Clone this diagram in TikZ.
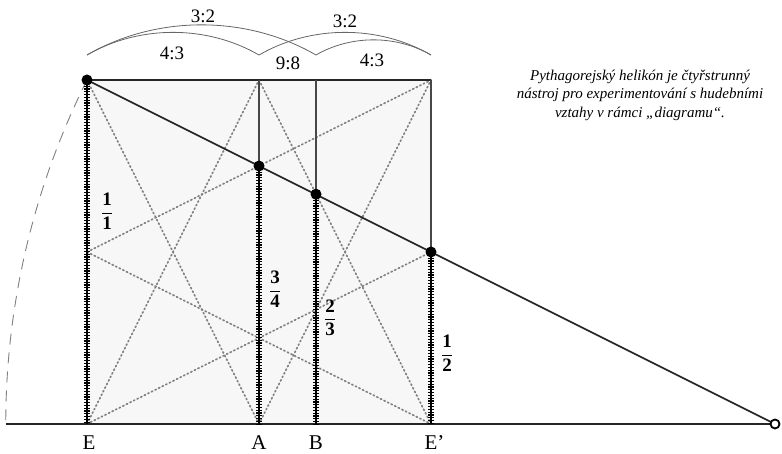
\documentclass[tikz,border=0pt]{standalone}
\usepackage{fontspec}
\usepackage{amsmath}
\setmainfont{Liberation Serif}
\begin{document}
\begin{tikzpicture}[x=1pt,y=1pt,
  hatch/.style={line width=6.5pt, dash pattern=on 1.2pt off 1.6pt, black},
  core/.style={line width=1.5pt, black},
  thinv/.style={line width=1.4pt, black!72},
  heavy/.style={line width=1.8pt, black!85},
  dotline/.style={line width=1.6pt, black!50, dash pattern=on 1.4pt off 2.6pt, line cap=round},
  ratioarc/.style={line width=0.8pt, black!60},
  dasharc/.style={line width=0.9pt, black!50, dash pattern=on 11pt off 8pt},
  fulldot/.style={circle, fill=black, inner sep=0pt, minimum size=11pt},
  opendot/.style={circle, draw=black, line width=1.8pt, fill=white, inner sep=0pt, minimum size=9pt},
  lab/.style={font=\fontsize{21}{24}\selectfont, inner sep=1pt},
  ratio/.style={font=\fontsize{19}{21}\selectfont, inner sep=1pt},
  frac/.style={font=\fontsize{19}{21}\selectfont\bfseries, inner sep=0pt}
]
\useasboundingbox (0,0) rectangle (782,454);

% key points
\coordinate (Et) at (87,374); \coordinate (Em) at (87,202); \coordinate (Eb) at (87,30);
\coordinate (At) at (259,374); \coordinate (Ab) at (259,30);
\coordinate (Bt) at (316,374); \coordinate (Bb) at (316,30);
\coordinate (Ft) at (431,374); \coordinate (Fm) at (431,202); \coordinate (Fb) at (431,30);
\coordinate (Ad) at (259,288); \coordinate (Bd) at (316,259.8);
\coordinate (G0) at (6,30);
\coordinate (Ol) at (775,30);

% light fill of the square
\fill[black!3] (Eb) rectangle (Ft);

% dotted construction lines
\draw[dotline] (Et) -- (Ab);
\draw[dotline] (Eb) -- (At);
\draw[dotline] (At) -- (Fb);
\draw[dotline] (Ab) -- (Ft);
\draw[dotline] (Em) -- (Ft);
\draw[dotline] (Em) -- (Fb);
\draw[dotline] (Eb) -- (Fm);

% dashed arc
\draw[dasharc] (Et) arc[start angle=153.435, end angle=180, radius=769.16];

% frame
\draw[heavy] (Et) -- (Ft);
\draw[thinv] (Ft) -- (Fm);
\draw[thinv] (At) -- (Ad);
\draw[thinv] (Bt) -- (Bd);

% ground line
\draw[heavy] (G0) -- (Ol);

% strings
\foreach \a/\b in {Et/Eb, Ad/Ab, Bd/Bb, Fm/Fb}{
  \draw[hatch] (\a) -- (\b);
  \draw[core] (\a) -- (\b);
}

% diagonal
\draw[line width=1.6pt, black!85] (Et) -- (Ol);

% dots
\node[fulldot] (dE) at (Et) {};
\node[fulldot] (dA) at (Ad) {};
\node[fulldot] (dB) at (Bd) {};
\node[fulldot] (dF) at (Fm) {};
\node[opendot] (dO) at (Ol) {};

% top ratio arcs
\coordinate (aE) at (87,399); \coordinate (aA) at (259,399);
\coordinate (aB) at (316,399); \coordinate (aF) at (431,399);
\draw[ratioarc] (aE) to[out=30,in=150,looseness=0.9] (aB);
\draw[ratioarc] (aE) to[out=30,in=150,looseness=0.9] (aA);
\draw[ratioarc] (aA) to[out=30,in=150,looseness=0.9] (aF);
\draw[ratioarc] (aB) to[out=30,in=150,looseness=0.9] (aF);

\node[ratio] (r1) at (203,438) {3:2};
\node[ratio] (r2) at (172,401) {4:3};
\node[ratio] (r3) at (288,391) {9:8};
\node[ratio] (r4) at (345,433) {3:2};
\node[ratio] (r5) at (372,394) {4:3};

% fractions
\node[frac] (f1) at (107,243) {$\dfrac{\text{1}}{\text{1}}$};
\node[frac] (f2) at (275,165) {$\dfrac{\text{3}}{\text{4}}$};
\node[frac] (f3) at (330,136) {$\dfrac{\text{2}}{\text{3}}$};
\node[frac] (f4) at (447,101) {$\dfrac{\text{1}}{\text{2}}$};

% letters
\node[lab] (lE) at (89,11) {E};
\node[lab] (lA) at (259,11) {A};
\node[lab] (lB) at (316,11) {B};
\node[lab] (lF) at (431,11) {E\rlap{’}};

% caption
\node[align=center, font=\itshape\fontsize{15}{18.5}\selectfont] (txt) at (640,359)
  {Pythagorejský helikón je čtyřstrunný\\nástroj pro experimentování s hudebními\\vztahy v rámci „diagramu“.};
\end{tikzpicture}
\end{document}
